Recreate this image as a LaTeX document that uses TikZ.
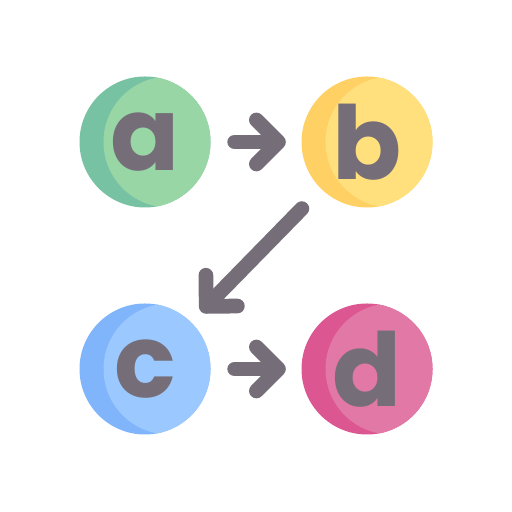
\documentclass[tikz,border=0pt]{standalone}
\usepackage{fontspec}
\newfontfamily\letterfont{Poppins}
\usepackage{tikz}
\usetikzlibrary{arrows.meta}

\definecolor{ink}{HTML}{756E78}
\definecolor{greenA}{HTML}{78C2A4}
\definecolor{greenB}{HTML}{98D6A5}
\definecolor{yellowA}{HTML}{FFD064}
\definecolor{yellowB}{HTML}{FFE07D}
\definecolor{blueA}{HTML}{80B4FB}
\definecolor{blueB}{HTML}{9BC9FF}
\definecolor{pinkA}{HTML}{DC5692}
\definecolor{pinkB}{HTML}{E278A6}

\begin{document}
\begin{tikzpicture}[
    ball/.style 2 args={circle, inner sep=0pt, minimum size=1.31cm, fill=#1,
      path picture={\fill[#2] ([xshift=0.24cm]path picture bounding box.center) circle (0.655cm);},
      text=ink, font=\letterfont\bfseries\fontsize{29}{29}\selectfont},
    link/.style={draw=ink, line width=4.2pt, line cap=round,
      -{Straight Barb[round, length=2.2mm, width=4.4mm]}}
    ]

    \useasboundingbox (0,0) rectangle (5.12,5.12);

    \node[ball={greenA}{greenB}] (a) at (1.45, 3.70) {a};
    \node[ball={yellowA}{yellowB}] (b) at (3.67, 3.70) {b};
    \node[ball={blueA}{blueB}] (c) at (1.45, 1.43) {c};
    \node[ball={pinkA}{pinkB}] (d) at (3.67, 1.43) {d};

    \draw[link, shorten <=0.235cm, shorten >=0.15cm] (a) -- (b);
    \draw[link, shorten <=0.27cm, shorten >=0.14cm] (b) -- (c);
    \draw[link, shorten <=0.235cm, shorten >=0.15cm] (c) -- (d);

\end{tikzpicture}
\end{document}
